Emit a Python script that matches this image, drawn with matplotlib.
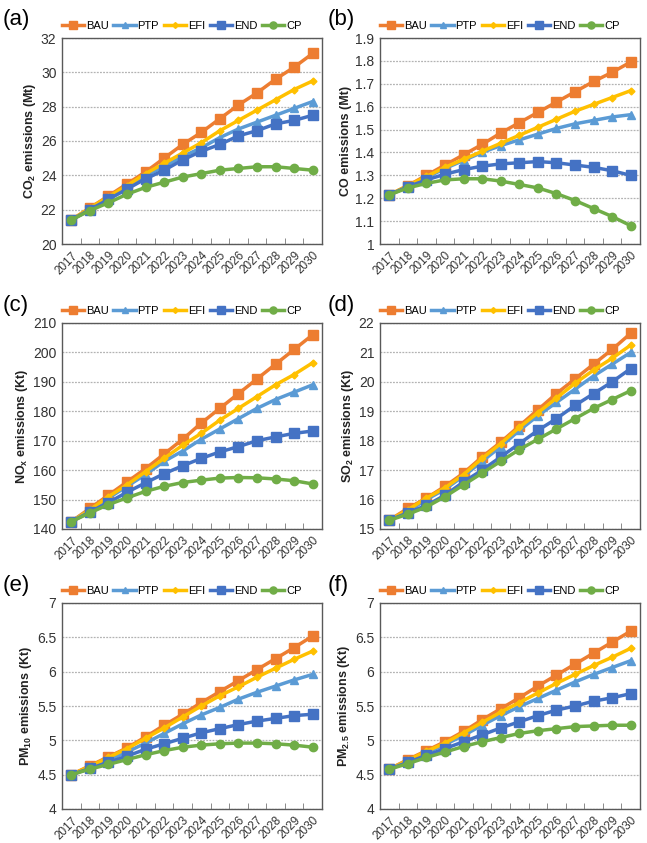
import numpy as np
import matplotlib
matplotlib.use("Agg")
import matplotlib.pyplot as plt
from matplotlib.ticker import FuncFormatter, MultipleLocator

plt.rcParams['font.family'] = ['Liberation Sans', 'DejaVu Sans']
plt.rcParams['mathtext.fontset'] = 'custom'
plt.rcParams['mathtext.rm'] = 'Liberation Sans:bold'
plt.rcParams['mathtext.it'] = 'Liberation Sans:bold'

# === DATA ===
years = [str(y) for y in range(2017, 2031)]
scenarios = ["BAU", "PTP", "EFI", "END", "CP"]

co2_bau = [21.4, 22.1, 22.8, 23.5, 24.2, 25.0, 25.8, 26.5, 27.3, 28.1, 28.8, 29.6, 30.3, 31.1]
co2_ptp = [21.4, 22.0, 22.7, 23.3, 24.0, 24.5, 25.1, 25.6, 26.2, 26.7, 27.1, 27.5, 27.9, 28.3]
co2_efi = [21.4, 22.1, 22.75, 23.4, 24.1, 24.7, 25.3, 25.9, 26.6, 27.2, 27.8, 28.4, 29.0, 29.5]
co2_end = [21.4, 22.0, 22.6, 23.2, 23.8, 24.3, 24.9, 25.4, 25.8, 26.3, 26.6, 27.0, 27.2, 27.5]
co2_cp = [21.4, 21.95, 22.4, 22.9, 23.3, 23.6, 23.9, 24.1, 24.3, 24.4, 24.5, 24.5, 24.4, 24.3]

co_bau = [1.215, 1.255, 1.30, 1.345, 1.39, 1.435, 1.485, 1.53, 1.575, 1.62, 1.665, 1.71, 1.75, 1.795]
co_ptp = [1.215, 1.25, 1.29, 1.33, 1.365, 1.40, 1.43, 1.455, 1.48, 1.505, 1.525, 1.54, 1.555, 1.565]
co_efi = [1.215, 1.255, 1.295, 1.335, 1.37, 1.405, 1.44, 1.475, 1.51, 1.545, 1.58, 1.61, 1.64, 1.67]
co_end = [1.215, 1.25, 1.28, 1.305, 1.325, 1.34, 1.35, 1.355, 1.36, 1.355, 1.345, 1.335, 1.32, 1.30]
co_cp = [1.215, 1.245, 1.265, 1.28, 1.285, 1.285, 1.275, 1.26, 1.245, 1.22, 1.19, 1.155, 1.12, 1.08]

nox_bau = [142.5, 147, 151.5, 156, 160.5, 165.5, 170.5, 176, 181, 186, 191, 196, 201, 206]
nox_ptp = [142.5, 146.5, 150.5, 154.5, 158.5, 163, 166.5, 170.5, 174, 177.5, 181, 184, 186.5, 189]
nox_efi = [142.5, 146.5, 151, 155, 159.5, 164, 168.5, 172.5, 177, 181, 185, 189, 192.5, 196.5]
nox_end = [142.5, 145.8, 149, 152.5, 155.7, 158.8, 161.5, 164, 166.2, 168, 170, 171.3, 172.5, 173.3]
nox_cp = [142.5, 145.5, 148.3, 150.6, 152.8, 154.5, 155.8, 156.6, 157.3, 157.5, 157.4, 157, 156.4, 155.3]

so2_bau = [15.3, 15.7, 16.05, 16.45, 16.9, 17.45, 17.95, 18.5, 19.05, 19.6, 20.1, 20.6, 21.1, 21.65]
so2_ptp = [15.3, 15.6, 16.0, 16.35, 16.8, 17.3, 17.8, 18.35, 18.85, 19.3, 19.75, 20.2, 20.6, 21.0]
so2_efi = [15.3, 15.65, 16.05, 16.4, 16.85, 17.4, 17.9, 18.45, 18.95, 19.45, 19.95, 20.4, 20.8, 21.25]
so2_end = [15.3, 15.55, 15.8, 16.15, 16.6, 17.0, 17.45, 17.9, 18.35, 18.75, 19.2, 19.6, 20.0, 20.45]
so2_cp = [15.3, 15.5, 15.75, 16.1, 16.5, 16.9, 17.3, 17.7, 18.05, 18.4, 18.75, 19.1, 19.4, 19.7]

pm10_bau = [4.5, 4.63, 4.76, 4.89, 5.05, 5.22, 5.38, 5.55, 5.71, 5.87, 6.03, 6.19, 6.35, 6.52]
pm10_ptp = [4.5, 4.6, 4.71, 4.83, 4.96, 5.1, 5.24, 5.37, 5.48, 5.6, 5.7, 5.79, 5.88, 5.96]
pm10_efi = [4.5, 4.62, 4.75, 4.88, 5.03, 5.18, 5.34, 5.5, 5.65, 5.78, 5.92, 6.05, 6.18, 6.30]
pm10_end = [4.5, 4.59, 4.68, 4.77, 4.87, 4.95, 5.03, 5.11, 5.17, 5.23, 5.28, 5.32, 5.36, 5.38]
pm10_cp = [4.5, 4.58, 4.65, 4.72, 4.79, 4.85, 4.9, 4.93, 4.95, 4.96, 4.96, 4.95, 4.93, 4.9]

pm25_bau = [4.58, 4.72, 4.85, 4.98, 5.13, 5.3, 5.46, 5.62, 5.79, 5.95, 6.11, 6.27, 6.43, 6.59]
pm25_ptp = [4.58, 4.7, 4.82, 4.94, 5.07, 5.22, 5.36, 5.49, 5.61, 5.73, 5.85, 5.96, 6.06, 6.16]
pm25_efi = [4.58, 4.71, 4.84, 4.96, 5.11, 5.26, 5.41, 5.55, 5.69, 5.83, 5.96, 6.09, 6.21, 6.34]
pm25_end = [4.58, 4.68, 4.78, 4.88, 4.98, 5.08, 5.18, 5.27, 5.36, 5.44, 5.5, 5.57, 5.62, 5.68]
pm25_cp = [4.58, 4.66, 4.75, 4.83, 4.91, 4.98, 5.04, 5.1, 5.14, 5.17, 5.2, 5.21, 5.22, 5.22]

# === STYLE ===
colors = {"BAU": "#ED7D31", "PTP": "#5B9BD5", "EFI": "#FFC000", "END": "#4472C4", "CP": "#70AD47"}
markers = {"BAU": ("s", 6.5), "PTP": ("^", 5.5), "EFI": ("D", 3.5), "END": ("s", 6.5), "CP": ("o", 6)}

panels = [
    ("(a)", r"CO$_2$ emissions (Mt)", (20, 32, 2), [co2_bau, co2_ptp, co2_efi, co2_end, co2_cp]),
    ("(b)", "CO emissions (Mt)", (1, 1.9, 0.1), [co_bau, co_ptp, co_efi, co_end, co_cp]),
    ("(c)", r"NO$_x$ emissions (Kt)", (140, 210, 10), [nox_bau, nox_ptp, nox_efi, nox_end, nox_cp]),
    ("(d)", r"SO$_2$ emissions (Kt)", (15, 22, 1), [so2_bau, so2_ptp, so2_efi, so2_end, so2_cp]),
    ("(e)", r"PM$_{10}$ emissions (Kt)", (4, 7, 0.5), [pm10_bau, pm10_ptp, pm10_efi, pm10_end, pm10_cp]),
    ("(f)", r"PM$_{2.5}$ emissions (Kt)", (4, 7, 0.5), [pm25_bau, pm25_ptp, pm25_efi, pm25_end, pm25_cp]),
]

W, H = 647, 843
fig = plt.figure(figsize=(W / 100, H / 100), dpi=100)

col_x = [62, 380]
row_top = [38, 323, 603]
ax_w, ax_h = 260, 206

x = np.arange(len(years))
fmt = FuncFormatter(lambda v, p: f"{v:g}")

for i, (tag, ylabel, (ymin, ymax, step), series) in enumerate(panels):
    r, c = divmod(i, 2)
    left = col_x[c] / W
    bottom = 1 - (row_top[r] + ax_h) / H
    ax = fig.add_axes([left, bottom, ax_w / W, ax_h / H])

    for name, vals in zip(scenarios, series):
        m, ms = markers[name]
        ax.plot(x, vals, color=colors[name], lw=2.5, marker=m, ms=ms, label=name, zorder=3)

    ax.set_xlim(-0.5, len(years) - 0.5)
    ax.set_ylim(ymin, ymax)
    ax.yaxis.set_major_locator(MultipleLocator(step))
    ax.yaxis.set_major_formatter(fmt)
    ax.grid(axis="y", color="#b3b3b3", lw=0.9, ls=(0, (1.5, 1)))
    ax.set_axisbelow(True)

    ax.set_xticks(x)
    ax.set_xticklabels(years, rotation=45, ha="right", rotation_mode="anchor", fontsize=8.5, color="#333333")
    ax.tick_params(axis="x", length=0, pad=4)
    ax.set_xticks(x[:-1] + 0.5, minor=True)
    ax.tick_params(axis="x", which="minor", direction="in", length=4, color="#777777")
    ax.tick_params(axis="y", length=0, labelsize=10, colors="#333333", pad=4)

    for sp in ax.spines.values():
        sp.set_color("#595959")
        sp.set_linewidth(1.0)

    ax.set_ylabel(ylabel, fontsize=9, fontweight="bold", color="#222222", labelpad=2)

    leg = ax.legend(loc="lower center", bbox_to_anchor=(0.46, 1.0), ncol=5, frameon=False,
                    fontsize=8, handlelength=2.0, handletextpad=0.15, columnspacing=0.45,
                    borderaxespad=0.4, borderpad=0.2)
    for h in leg.legend_handles:
        h.set_markersize(h.get_markersize() * 0.85)

    fig.text((3 if c == 0 else 328) / W, 1 - (row_top[r] - 18) / H, tag, fontsize=16,
             va="center", ha="left")

fig.savefig("out.png", dpi=100)
